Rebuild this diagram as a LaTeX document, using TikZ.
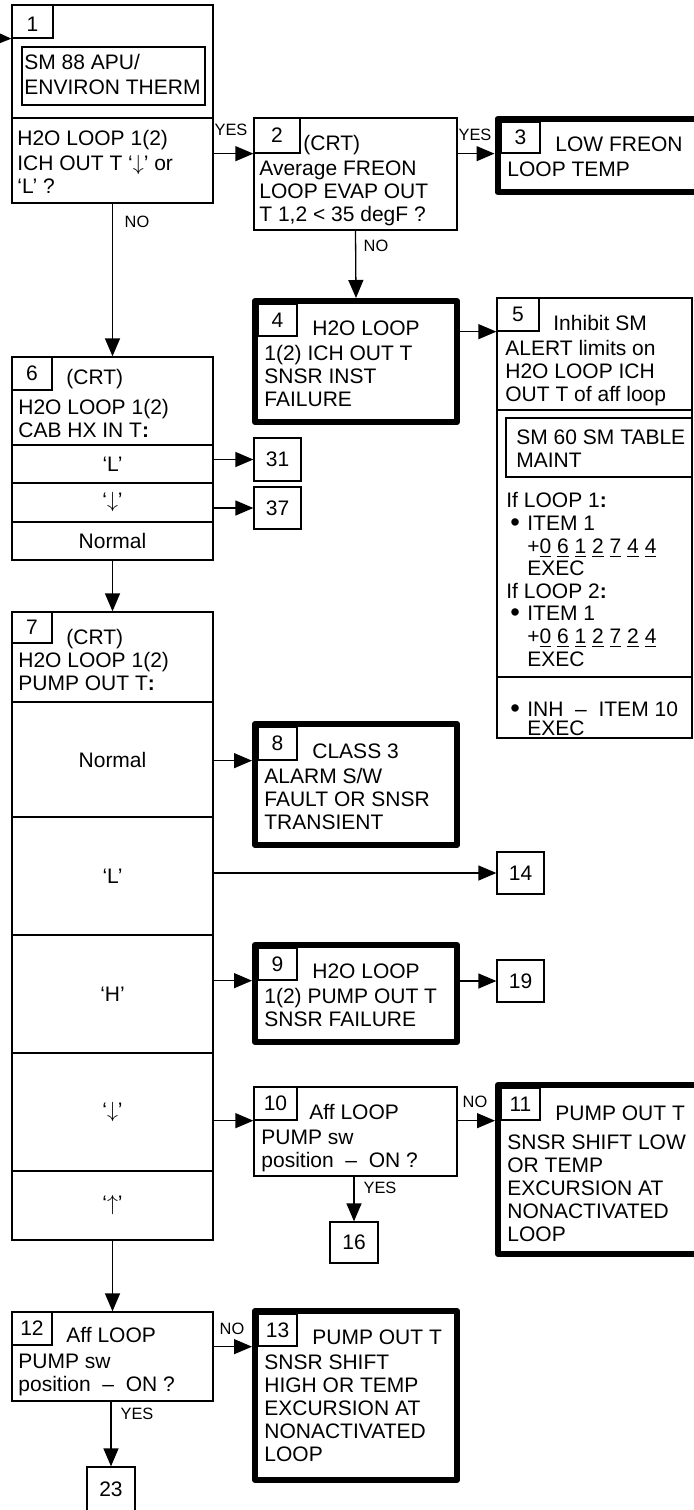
\documentclass[tikz,border=0pt]{standalone}
\usepackage{fontspec}
\setmainfont{Liberation Sans}
\usetikzlibrary{arrows.meta,fit}

\begin{document}
\begin{tikzpicture}[x=0.5pt, y=-0.5pt, font=\fontsize{10.5}{11.5}\selectfont,
		>={Triangle[length=9pt,width=7.5pt]},
		box/.style={draw, line width=0.65pt, inner sep=0pt},
		alarm/.style={draw, line width=3pt, line join=round, inner sep=0pt},
		tab/.style={draw, line width=0.65pt, inner sep=0pt},
		txt/.style={anchor=north west, inner sep=0pt, align=left},
		lbl/.style={inner sep=0pt, font=\fontsize{8.2}{9}\selectfont},
		ln/.style={line width=0.65pt},
		arr/.style={->, line width=0.65pt}]
	\newcommand{\bul}{\hspace*{2pt}\makebox[8.5pt][l]{\raisebox{-0.3pt}{\scalebox{1.3}{•}}}}
	\useasboundingbox (0,0) rectangle (693,1510);
	% 1
	\node[box, fit={(12,5) (213,203)}] (b1) {};
	\node[tab, fit={(12,5) (53,38)}, label={[yshift=-1.5pt]center:1}] (t1) {};
	\node[box, fit={(22,47) (205,105)}] (sm88) {};
	\node[txt] (x1a) at (24,53.4) {\strut SM 88 APU/\\[1pt]ENVIRON THERM};
	\draw[ln] (12,118) -- (213,118);
	\node[txt] (x1) at (17,129.4) {\strut H2O LOOP 1(2)\\[1pt]ICH OUT T ‘$\downarrow$’ or\\‘L’ ?};
	% 2
	\node[box, fit={(254,118) (457,230)}] (b2) {};
	\node[tab, fit={(254,118) (300,153)}, label=center:2] (t2) {};
	\node[txt] (x2) at (259,134.4) {\strut\hspace*{22pt}(CRT)\\[1pt]Average FREON\\LOOP EVAP OUT\\T 1,2 < 35 degF ?};
	% 3
	\node[alarm, fit={(497.5,119) (720,192)}] (b3) {};
	\node[tab, fit={(501,122) (540,153)}, label=center:3] (t3) {};
	\node[txt] (x3) at (507,135.4) {\strut\hspace*{24pt}LOW FREON\\[1pt]LOOP TEMP};
	% 4
	\node[alarm, fit={(255,301) (457,422)}] (b4) {};
	\node[tab, fit={(258,304) (297,336)}, label=center:4] (t4) {};
	\node[txt] (x4) at (264,319.4) {\strut\hspace*{24pt}H2O LOOP\\[1pt]1(2) ICH OUT T\\SNSR INST\\FAILURE};
	% 5
	\node[box, fit={(497,298) (692,738)}] (b5) {};
	\node[tab, fit={(497,298) (539,331)}, label=center:5] (t5) {};
	\node[txt] (x5) at (505,314.4) {\strut\hspace*{24pt}Inhibit SM\\[1pt]ALERT limits on\\H2O LOOP ICH\\OUT T of aff loop};
	\draw[ln] (497,410) -- (692,410);
	\node[box, fit={(506,418) (692,477)}] (sm60) {};
	\node[txt] (x5a) at (516,428.4) {\strut SM 60 SM TABLE\\MAINT};
	\node[txt, font=\fontsize{10.5}{11.3}\selectfont] (x5b) at (506,491.7) {\strut If LOOP 1\textbf{:}\\
		\bul ITEM 1\\
		\hspace*{10.5pt}+\underline{0} \underline{6} \underline{1} \underline{2} \underline{7} \underline{4} \underline{4}\\
		\hspace*{10.5pt}EXEC\\
		If LOOP 2\textbf{:}\\
		\bul ITEM 1\\
		\hspace*{10.5pt}+\underline{0} \underline{6} \underline{1} \underline{2} \underline{7} \underline{2} \underline{4}\\
		\hspace*{10.5pt}EXEC};
	\draw[ln] (497,677) -- (692,677);
	\node[txt] (x5c) at (506,700.4) {\strut\bul INH~~–~~ITEM 10\\[-2pt]\hspace*{10.5pt}EXEC};
	% 6
	\node[box, fit={(12,357) (213,560)}] (b6) {};
	\node[tab, fit={(12,357) (52,390)}, label=center:6] (t6) {};
	\node[txt] (x6) at (18,368.4) {\strut\hspace*{24pt}(CRT)\\[3.5pt]H2O LOOP 1(2)\\CAB HX IN T\textbf{:}};
	\draw[ln] (12,445) -- (213,445);
	\draw[ln] (12,483) -- (213,483);
	\draw[ln] (12,522) -- (213,522);
	\node (r6a) at (112.5,464) {‘L’};
	\node (r6b) at (112.5,502) {‘$\downarrow$’};
	\node (r6c) at (112.5,541) {Normal};
	\node[box, fit={(254,438) (301,481)}, label=center:31] (r31) {};
	\node[box, fit={(254,487) (301,529)}, label=center:37] (r37) {};
	% 7
	\node[box, fit={(12,612) (213,1240)}] (b7) {};
	\node[tab, fit={(12,612) (52,643)}, label=center:7] (t7) {};
	\node[txt] (x7) at (18,628.4) {\strut\hspace*{24pt}(CRT)\\H2O LOOP 1(2)\\PUMP OUT T\textbf{:}};
	\draw[ln] (12,702) -- (213,702);
	\draw[ln] (12,817) -- (213,817);
	\draw[ln] (12,935) -- (213,935);
	\draw[ln] (12,1053) -- (213,1053);
	\draw[ln] (12,1171) -- (213,1171);
	\node (r7a) at (112.5,760) {Normal};
	\node (r7b) at (112.5,876) {‘L’};
	\node (r7c) at (112.5,994) {‘H’};
	\node (r7d) at (112.5,1112) {‘$\downarrow$’};
	\node (r7e) at (112.5,1205.5) {‘$\uparrow$’};
	% 8
	\node[alarm, fit={(255,724) (457,845)}] (b8) {};
	\node[tab, fit={(258,727) (297,760)}, label=center:8] (t8) {};
	\node[txt] (x8) at (264,742.4) {\strut\hspace*{24pt}CLASS 3\\[1pt]ALARM S/W\\FAULT OR SNSR\\TRANSIENT};
	\node[box, fit={(497,852) (544,894)}, label=center:14] (r14) {};
	% 9
	\node[alarm, fit={(255,945) (457,1042)}] (b9) {};
	\node[tab, fit={(258,948) (297,980)}, label=center:9] (t9) {};
	\node[txt] (x9) at (264,962) {\strut\hspace*{24pt}H2O LOOP\\[1pt]1(2) PUMP OUT T\\SNSR FAILURE};
	\node[box, fit={(497,960) (544,1002)}, label=center:19] (r19) {};
	% 10
	\node[box, fit={(254,1087) (457,1176)}] (b10) {};
	\node[tab, fit={(254,1087) (297,1120)}, label=center:10] (t10) {};
	\node[txt] (x10) at (261,1103.4) {\strut\hspace*{24pt}Aff LOOP\\[1pt]PUMP sw\\position~~–~~ON ?};
	% 11
	\node[alarm, fit={(498,1085) (720,1254)}] (b11) {};
	\node[tab, fit={(501,1088) (540,1120)}, label=center:11] (t11) {};
	\node[txt] (x11) at (507,1104) {\strut\hspace*{24pt}PUMP OUT T\\[3pt]SNSR SHIFT LOW\\OR TEMP\\EXCURSION AT\\NONACTIVATED\\LOOP};
	\node[box, fit={(330,1222) (378,1263)}, label=center:16] (r16) {};
	% 12
	\node[box, fit={(12,1312) (213,1401)}] (b12) {};
	\node[tab, fit={(12,1312) (52,1345)}, label=center:12] (t12) {};
	\node[txt] (x12) at (18,1326.4) {\strut\hspace*{24pt}Aff LOOP\\[1.5pt]PUMP sw\\position~~–~~ON ?};
	% 13
	\node[alarm, fit={(255,1311) (457,1480)}] (b13) {};
	\node[tab, fit={(258,1314) (297,1346)}, label=center:13] (t13) {};
	\node[txt] (x13) at (264,1328.4) {\strut\hspace*{24pt}PUMP OUT T\\[1pt]SNSR SHIFT\\HIGH OR TEMP\\EXCURSION AT\\NONACTIVATED\\LOOP};
	\node[box, fit={(87,1467) (135,1511)}, label=center:23] (r23) {};
	% connectors
	\coordinate (in1) at (-12,38);
	\draw[arr] (in1) -- (t1.south west);
	\draw[arr] (b1.east |- t2.south) -- (t2.south west);
	\draw[arr] (b2.east |- t3.south) -- (b3.west |- t3.south);
	\draw[arr] (b1.south) -- (b6.north);
	\draw[arr] (b2.south) -- (b4.north);
	\draw[arr] (b4.east |- t5.south) -- (t5.south west);
	\draw[arr] (b6.east |- r31.west) -- (r31.west);
	\draw[arr] (b6.east |- r37.west) -- (r37.west);
	\draw[arr] (b6.south) -- (b7.north);
	\draw[arr] (b7.east |- t8.south) -- (b8.west |- t8.south);
	\draw[arr] (b7.east |- r14.west) -- (r14.west);
	\draw[arr] (b7.east |- t9.south) -- (b9.west |- t9.south);
	\draw[arr] (b9.east |- r19.west) -- (r19.west);
	\draw[arr] (b7.east |- t10.south) -- (t10.south west);
	\draw[arr] (b10.east |- t11.south) -- (b11.west |- t11.south);
	\draw[arr] (b10.south -| r16.north) -- (r16.north);
	\draw[arr] (b7.south) -- (b12.north);
	\draw[arr] (b12.east |- t13.south) -- (b13.west |- t13.south);
	\draw[arr] (b12.south -| r23.north) -- (r23.north);
	\node[lbl] (yes1) at (231,130) {YES};
	\node[lbl] (yes2) at (475,135) {YES};
	\node[lbl] (no1) at (137,222) {NO};
	\node[lbl] (no2) at (376,246) {NO};
	\node[lbl] (no10) at (475,1102) {NO};
	\node[lbl] (yes10) at (380,1188) {YES};
	\node[lbl] (no12) at (232,1329) {NO};
	\node[lbl] (yes12) at (137,1414) {YES};
\end{tikzpicture}
\end{document}
